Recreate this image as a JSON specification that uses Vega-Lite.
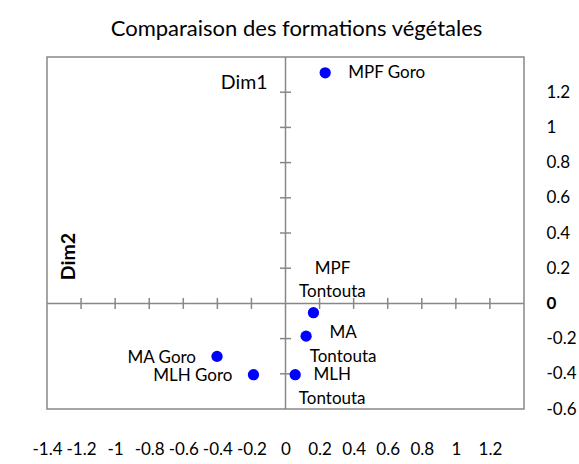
{
  "$schema": "https://vega.github.io/schema/vega-lite/v6.json",
  "width": 477,
  "height": 352,
  "autosize": "none",
  "padding": {"left": 47, "top": 57, "right": 55, "bottom": 55},
  "background": "white",
  "title": {
    "text": "Comparaison des formations végétales",
    "font": "Lato",
    "fontSize": 22,
    "fontWeight": "normal",
    "color": "black",
    "anchor": "middle",
    "frame": "group",
    "baseline": "alphabetic",
    "offset": -2,
    "dx": 11
  },
  "datasets": {
    "points": [
      {"name": "MPF Goro", "x": 0.233, "y": 1.31},
      {"name": "MPF Tontouta", "x": 0.164, "y": -0.053},
      {"name": "MA Tontouta", "x": 0.121, "y": -0.186},
      {"name": "MLH Tontouta", "x": 0.057, "y": -0.405},
      {"name": "MA Goro", "x": -0.402, "y": -0.301},
      {"name": "MLH Goro", "x": -0.188, "y": -0.405}
    ],
    "xticks": [
      {"x": -1.2, "y": 0}, {"x": -1.0, "y": 0}, {"x": -0.8, "y": 0}, {"x": -0.6, "y": 0},
      {"x": -0.4, "y": 0}, {"x": -0.2, "y": 0}, {"x": 0.2, "y": 0}, {"x": 0.4, "y": 0},
      {"x": 0.6, "y": 0}, {"x": 0.8, "y": 0}, {"x": 1.0, "y": 0}, {"x": 1.2, "y": 0}
    ],
    "yticks": [
      {"x": 0, "y": -0.4}, {"x": 0, "y": -0.2}, {"x": 0, "y": 0.2}, {"x": 0, "y": 0.4},
      {"x": 0, "y": 0.6}, {"x": 0, "y": 0.8}, {"x": 0, "y": 1.0}, {"x": 0, "y": 1.2}
    ],
    "vline": [{"x": 0, "y": -0.6, "y2": 1.4}],
    "hline": [{"x": -1.4, "x2": 1.4, "y": 0}]
  },
  "encoding": {
    "x": {
      "field": "x", "type": "quantitative",
      "scale": {"domain": [-1.4, 1.4], "nice": false, "zero": false},
      "axis": {
        "orient": "bottom",
        "values": [-1.4, -1.2, -1, -0.8, -0.6, -0.4, -0.2, 0, 0.2, 0.4, 0.6, 0.8, 1, 1.2],
        "labelExpr": "toString(datum.value)",
        "domain": false, "ticks": false, "tickSize": 0, "grid": false,
        "labelPadding": 40, "labelBaseline": "middle", "labelAlign": "center",
        "labelFont": "Lato", "labelFontSize": 17, "labelColor": "black",
        "labelFlush": false, "labelOverlap": false,
        "title": "Dim1", "titleX": 220, "titleY": -327, "titleAlign": "right",
        "titleBaseline": "middle", "titleAngle": 0, "titleFont": "Lato",
        "titleFontSize": 19.5, "titleFontWeight": 400, "titleColor": "black"
      }
    },
    "y": {
      "field": "y", "type": "quantitative",
      "scale": {"domain": [-0.6, 1.4], "nice": false, "zero": false},
      "axis": {
        "orient": "right",
        "values": [-0.6, -0.4, -0.2, 0, 0.2, 0.4, 0.6, 0.8, 1, 1.2],
        "labelExpr": "toString(datum.value)",
        "domain": false, "ticks": false, "tickSize": 0, "grid": false,
        "labelPadding": 22, "labelBaseline": "middle", "labelAlign": "left",
        "labelFont": "Lato", "labelFontSize": 17, "labelColor": "black",
        "labelFontWeight": {"condition": {"test": "datum.value === 0", "value": "bold"}, "value": "normal"},
        "labelFlush": false, "labelOverlap": false,
        "title": "Dim2", "titleX": -456, "titleY": 199, "titleAlign": "center",
        "titleBaseline": "middle", "titleAngle": 270, "titleFont": "Lato",
        "titleFontSize": 19.5, "titleFontWeight": "bold", "titleColor": "black"
      }
    }
  },
  "layer": [
    {
      "data": {"name": "vline"},
      "mark": {"type": "rule", "color": "#888888", "strokeWidth": 1.5},
      "encoding": {"y2": {"field": "y2"}}
    },
    {
      "data": {"name": "hline"},
      "mark": {"type": "rule", "color": "#888888", "strokeWidth": 1.5},
      "encoding": {"x2": {"field": "x2"}}
    },
    {
      "data": {"name": "xticks"},
      "mark": {"type": "tick", "orient": "vertical", "size": 11, "thickness": 1.5, "color": "#888888", "opacity": 1},
      "encoding": {}
    },
    {
      "data": {"name": "yticks"},
      "mark": {"type": "tick", "orient": "horizontal", "size": 11, "thickness": 1.5, "color": "#888888", "opacity": 1},
      "encoding": {}
    },
    {
      "data": {"name": "points"},
      "mark": {"type": "circle", "size": 127, "color": "#0000FF", "opacity": 1},
      "encoding": {}
    },
    {
      "data": {"name": "points"},
      "transform": [{"filter": "datum.name === 'MPF Goro'"}],
      "mark": {"type": "text", "align": "left", "baseline": "middle", "dx": 23, "font": "Lato", "fontSize": 17, "color": "black"},
      "encoding": {"text": {"field": "name"}}
    },
    {
      "data": {"name": "points"},
      "transform": [{"filter": "datum.name === 'MA Goro' || datum.name === 'MLH Goro'"}],
      "mark": {"type": "text", "align": "right", "baseline": "middle", "dx": -21, "dy": 1.5, "font": "Lato", "fontSize": 17, "color": "black"},
      "encoding": {"text": {"field": "name"}}
    },
    {
      "data": {"name": "points"},
      "transform": [{"filter": "datum.name === 'MPF Tontouta'"}],
      "mark": {"type": "text", "align": "center", "baseline": "alphabetic", "dx": 19, "dy": -39, "lineBreak": " ", "lineHeight": 23.5, "font": "Lato", "fontSize": 17, "color": "black"},
      "encoding": {"text": {"field": "name"}}
    },
    {
      "data": {"name": "points"},
      "transform": [{"filter": "datum.name === 'MA Tontouta'"}],
      "mark": {"type": "text", "align": "center", "baseline": "alphabetic", "dx": 37, "dy": 2, "lineBreak": " ", "lineHeight": 23.5, "font": "Lato", "fontSize": 17, "color": "black"},
      "encoding": {"text": {"field": "name"}}
    },
    {
      "data": {"name": "points"},
      "transform": [{"filter": "datum.name === 'MLH Tontouta'"}],
      "mark": {"type": "text", "align": "center", "baseline": "alphabetic", "dx": 37, "dy": 5.5, "lineBreak": " ", "lineHeight": 23.5, "font": "Lato", "fontSize": 17, "color": "black"},
      "encoding": {"text": {"field": "name"}}
    }
  ],
  "config": {
    "view": {"stroke": "#888888", "strokeWidth": 1.5},
    "font": "Lato",
    "axis": {"labelOverlap": false}
  }
}
